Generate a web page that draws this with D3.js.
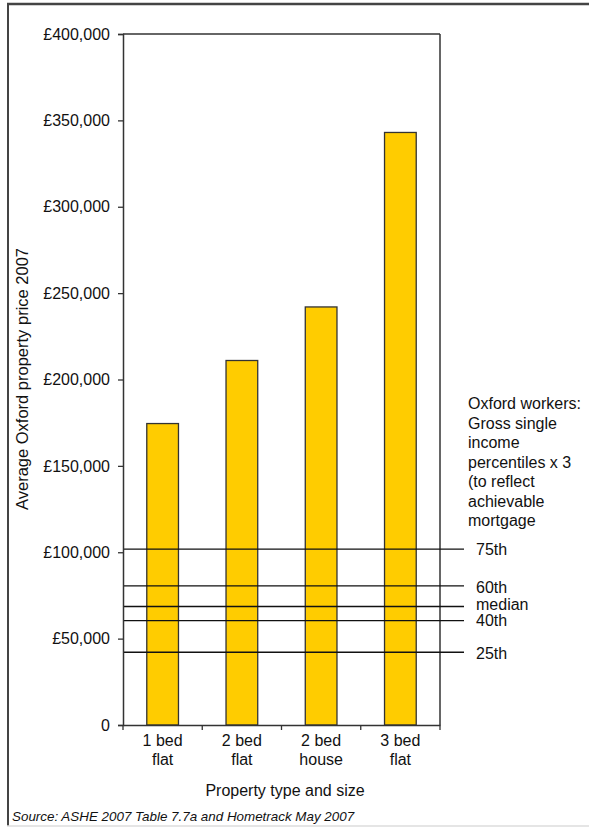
<!DOCTYPE html>
<html>
<head>
<meta charset="utf-8">
<script src="https://cdn.jsdelivr.net/npm/d3@7"></script>
<style>
  body { margin: 0; background: #fff; }
  text { font-family: "Liberation Sans", Arial, sans-serif; fill: #111; }
</style>
</head>
<body>
<svg id="chart"></svg>
<script>
const categories = [["1 bed", "flat"], ["2 bed", "flat"], ["2 bed", "house"], ["3 bed", "flat"]];
const prices = [174500, 211000, 242000, 343000];
const percentileLabels = ["75th", "60th", "median", "40th", "25th"];
const percentileValues = [101800, 80500, 68600, 60400, 42100];
const yTicks = [0, 50000, 100000, 150000, 200000, 250000, 300000, 350000, 400000];
const noteLines = ["Oxford workers:", "Gross single", "income", "percentiles x 3", "(to reflect", "achievable", "mortgage"];

const width = 589, height = 827;
const margin = { top: 34, left: 123, right: 440, bottom: 725 };

const svg = d3.select('#chart').attr('width', width).attr('height', height);

// outer frame
svg.append('line').attr('x1', 7).attr('x2', width).attr('y1', 4).attr('y2', 4)
    .attr('stroke', '#444').attr('stroke-width', 2.5);
svg.append('line').attr('x1', 8).attr('x2', 8).attr('y1', 4).attr('y2', 826)
    .attr('stroke', '#444').attr('stroke-width', 2);
svg.append('line').attr('x1', 7).attr('x2', width).attr('y1', 826).attr('y2', 826)
    .attr('stroke', '#ddd').attr('stroke-width', 1.5);

const x = d3.scaleBand().domain(d3.range(categories.length))
    .range([margin.left, margin.right]).paddingInner(0.6).paddingOuter(0.3);
const xBand = d3.scaleBand().domain(d3.range(categories.length))
    .range([margin.left, margin.right]);
const y = d3.scaleLinear().domain([0, 400000]).range([margin.bottom, margin.top]);

// bars
svg.selectAll('.bar')
    .data(prices)
    .enter()
    .append('rect')
    .attr('class', 'bar')
    .attr('x', (d, i) => x(i))
    .attr('y', d => y(d))
    .attr('width', x.bandwidth())
    .attr('height', d => y(0) - y(d))
    .attr('fill', '#ffcc00')
    .attr('stroke', '#333')
    .attr('stroke-width', 1.3);

// plot frame top and right
svg.append('line').attr('x1', margin.left).attr('x2', margin.right)
    .attr('y1', margin.top).attr('y2', margin.top).attr('stroke', '#333').attr('stroke-width', 1.5);
svg.append('line').attr('x1', margin.right).attr('x2', margin.right)
    .attr('y1', margin.top).attr('y2', margin.bottom).attr('stroke', '#333').attr('stroke-width', 1.5);

// percentile lines
const lineEnd = 464;
percentileValues.forEach((v, i) => {
    svg.append('line')
        .attr('x1', margin.left).attr('x2', lineEnd)
        .attr('y1', y(v)).attr('y2', y(v))
        .attr('stroke', '#111').attr('stroke-width', 1.3);
});
const labelOffsets = [0, 1, -2, 0, 1];
percentileLabels.forEach((t, i) => {
    svg.append('text')
        .attr('x', 476)
        .attr('y', y(percentileValues[i]) + labelOffsets[i])
        .attr('dy', '0.35em')
        .attr('font-size', '16px')
        .text(t);
});

// y axis
const yAxis = svg.append('g')
    .attr('transform', `translate(${margin.left}, 0)`)
    .call(d3.axisLeft(y).tickValues(yTicks).tickSize(5).tickPadding(8)
        .tickFormat(d => d === 0 ? '0' : '£' + d3.format(',')(d)));
yAxis.select('.domain').attr('stroke', '#333').attr('stroke-width', 1.5);
yAxis.selectAll('.tick line').attr('stroke', '#333').attr('stroke-width', 1.3);
yAxis.selectAll('text').attr('font-size', '16px')
    .style('font-family', '"Liberation Sans", Arial, sans-serif').attr('fill', '#111');

// x axis
const xAxis = svg.append('g')
    .attr('transform', `translate(0, ${margin.bottom})`)
    .call(d3.axisBottom(xBand).tickSize(0).tickFormat(''));
xAxis.select('.domain').attr('stroke', '#333').attr('stroke-width', 1.5);
d3.range(categories.length + 1).forEach(i => {
    const xp = i < categories.length ? xBand(i) : margin.right;
    svg.append('line').attr('x1', xp).attr('x2', xp)
        .attr('y1', margin.bottom).attr('y2', margin.bottom + 5)
        .attr('stroke', '#333').attr('stroke-width', 1.3);
});
categories.forEach((c, i) => {
    c.forEach((s, j) => {
        svg.append('text')
            .attr('x', xBand(i) + xBand.bandwidth() / 2)
            .attr('y', 746 + j * 19)
            .attr('text-anchor', 'middle')
            .attr('font-size', '16px')
            .text(s);
    });
});

// axis titles
svg.append('text')
    .attr('x', 285).attr('y', 796)
    .attr('text-anchor', 'middle')
    .attr('font-size', '16px')
    .text('Property type and size');
svg.append('text')
    .attr('transform', 'translate(28, 379) rotate(-90)')
    .attr('text-anchor', 'middle')
    .attr('font-size', '16.5px')
    .text('Average Oxford property price 2007');

// annotation
noteLines.forEach((t, i) => {
    svg.append('text')
        .attr('x', 468).attr('y', 409 + i * 19.5)
        .attr('font-size', '16px')
        .text(t);
});

// source
svg.append('text')
    .attr('x', 12).attr('y', 821)
    .attr('font-size', '13.4px')
    .attr('font-style', 'italic')
    .text('Source: ASHE 2007 Table 7.7a and Hometrack May 2007');
</script>
</body>
</html>
